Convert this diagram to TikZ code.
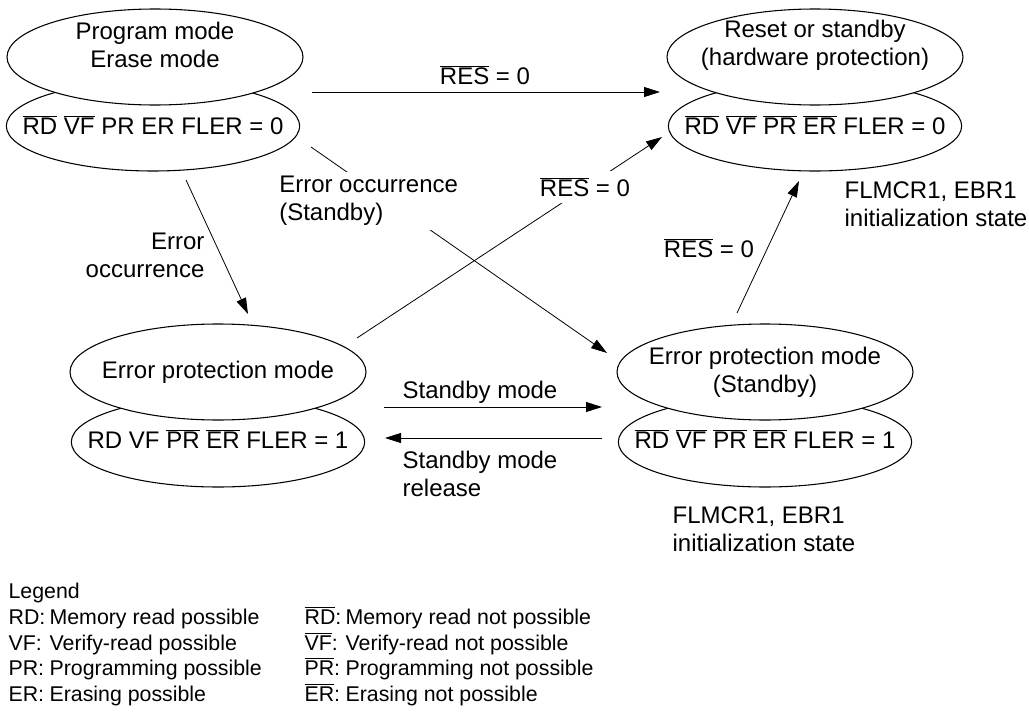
\documentclass[tikz,border=0pt]{standalone}
\usepackage{fontspec}
\setmainfont{Liberation Sans}
\usetikzlibrary{shapes.geometric,arrows.meta}
\newcommand{\ovl}[1]{$\overline{\mbox{#1}}$}
\begin{document}
\begin{tikzpicture}[x=0.75pt,y=-0.75pt,
  lbl/.style={font=\fontsize{18}{21}\selectfont, inner sep=1pt},
  leg/.style={font=\fontsize{16}{19}\selectfont, inner sep=1pt, anchor=base west},
  ellt/.style={ellipse, draw, line width=0.8pt, inner sep=0pt, fill=white, minimum width=222pt, minimum height=72pt},
  ellb/.style={ellipse, draw, line width=0.8pt, inner sep=0pt, fill=white, minimum width=220pt, minimum height=67.5pt},
  arr/.style={-{Triangle[length=12pt,width=7.5pt]}, line width=0.6pt}]
\useasboundingbox (0,0) rectangle (1029,721);

% ---- ellipses
\node[ellb] (AB) at (153,126) {};
\node[ellt] (AT) at (155,57) {};
\node[ellb] (BB) at (815,126) {};
\node[ellt] (BT) at (815,57) {};
\node[ellb] (CB) at (218,442) {};
\node[ellt] (CT) at (218,372) {};
\node[ellb] (DB) at (765,442) {};
\node[ellt] (DT) at (765,372) {};

% ---- ellipse texts
\node[lbl, align=center] (ATt) at (155,45) {Program mode\\Erase mode};
\node[lbl] (ABt) at (153,125) {\ovl{RD} \ovl{VF} PR ER FLER = 0};
\node[lbl, align=center] (BTt) at (815,45) {Reset or standby\\(hardware protection)};
\node[lbl] (BBt) at (815,125) {\ovl{RD} \ovl{VF} \ovl{PR} \ovl{ER} FLER = 0};
\node[lbl] (CTt) at (218,372) {Error protection mode};
\node[lbl] (CBt) at (218,439) {RD VF \ovl{PR} \ovl{ER} FLER = 1};
\node[lbl, align=center] (DTt) at (765,372) {Error protection mode\\(Standby)};
\node[lbl] (DBt) at (765,439) {\ovl{RD} \ovl{VF} \ovl{PR} \ovl{ER} FLER = 1};

% ---- connector end points
\coordinate (r1s) at (312,92);  \coordinate (r1e) at (660,92);
\coordinate (e2s) at (311,147); \coordinate (e2e) at (607,353);
\coordinate (r2s) at (357,338); \coordinate (r2e) at (662,137);
\coordinate (e1s) at (186,180); \coordinate (e1e) at (248,314);
\coordinate (r3s) at (737,313); \coordinate (r3e) at (799,181);
\coordinate (s1s) at (384,407); \coordinate (s1e) at (602,407);
\coordinate (s2s) at (602,438); \coordinate (s2e) at (385,438);

\draw[arr] (r1s) -- (r1e);
\draw[arr] (e2s) -- (e2e);
\draw[arr] (r2s) -- (r2e);
\draw[arr] (e1s) -- (e1e);
\draw[arr] (r3s) -- (r3e);
\draw[arr] (s1s) -- (s1e);
\draw[arr] (s2s) -- (s2e);

% ---- connector labels
\node[lbl] (r1l) at (485,75) {\ovl{RES} = 0};
\node[lbl, fill=white, inner sep=3pt, align=left, anchor=west] (e2l) at (275,201) {Error occurrence\\(Standby)};
\node[lbl, fill=white, inner sep=5pt] (r2l) at (585,187) {\ovl{RES} = 0};
\node[lbl, align=right, anchor=east] (e1l) at (206,255) {Error\\occurrence};
\node[lbl] (r3l) at (709,248) {\ovl{RES} = 0};
\node[lbl, anchor=west] (s1l) at (401,392) {Standby mode};
\node[lbl, anchor=west, align=left] (s2l) at (401,474) {Standby mode\\release};

% ---- notes
\node[lbl, anchor=west, align=left] (f1) at (843,204) {FLMCR1, EBR1\\initialization state};
\node[lbl, anchor=west, align=left] (f2) at (671,529) {FLMCR1, EBR1\\initialization state};

% ---- legend
\node[leg] (lg) at (7,598) {Legend};
\node[leg] (l1a) at (7,624) {RD:};
\node[leg] (l1b) at (48,624) {Memory read possible};
\node[leg] (l2a) at (7,650) {VF:};
\node[leg] (l2b) at (48,650) {Verify-read possible};
\node[leg] (l3a) at (7,675) {PR:};
\node[leg] (l3b) at (48,675) {Programming possible};
\node[leg] (l4a) at (7,701) {ER:};
\node[leg] (l4b) at (48,701) {Erasing possible};
\node[leg] (m1a) at (303,624) {\ovl{RD}:};
\node[leg] (m1b) at (344,624) {Memory read not possible};
\node[leg] (m2a) at (303,650) {\ovl{VF}:};
\node[leg] (m2b) at (344,650) {Verify-read not possible};
\node[leg] (m3a) at (303,675) {\ovl{PR}:};
\node[leg] (m3b) at (344,675) {Programming not possible};
\node[leg] (m4a) at (303,701) {\ovl{ER}:};
\node[leg] (m4b) at (344,701) {Erasing not possible};
\end{tikzpicture}
\end{document}
